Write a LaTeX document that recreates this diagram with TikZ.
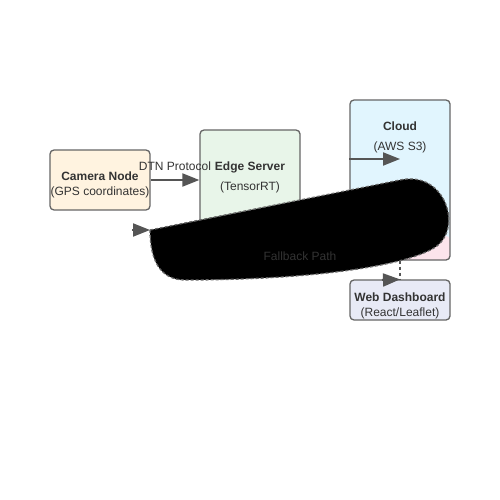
\documentclass[tikz,border=0pt]{standalone}
\usepackage{fontspec}
\setmainfont{Liberation Sans}
\usetikzlibrary{arrows.meta}
\definecolor{linegray}{HTML}{555555}
\definecolor{boxgray}{HTML}{666666}
\definecolor{textgray}{HTML}{333333}
\definecolor{camfill}{HTML}{FFF3E0}
\definecolor{edgefill}{HTML}{E8F5E9}
\definecolor{cloudfill}{HTML}{E1F5FE}
\definecolor{alertfill}{HTML}{FCE4EC}
\definecolor{dashfill}{HTML}{E8EAF6}
\begin{document}
\begin{tikzpicture}[x=1pt,y=-1pt,>={Triangle[length=17pt,width=13pt]},
    box/.style={draw=boxgray,line width=1.3pt,rounded corners=4pt,minimum width=100pt,inner sep=0pt},
    txt/.style={font=\fontsize{12}{15}\selectfont,text=textgray,align=center,inner sep=0pt},
    link/.style={->,draw=linegray,fill=linegray,line width=2pt}]
\useasboundingbox (0,0) rectangle (500,500);

\node[box,fill=camfill,minimum height=60pt](cam) at (100,180){};
\node[box,fill=edgefill,minimum height=120pt](edge) at (250,190){};
\node[box,fill=cloudfill,minimum height=160pt,
    path picture={\fill[alertfill](path picture bounding box.south west) rectangle ([yshift=24pt]path picture bounding box.south east);}](cloud) at (400,180){};
\node[box,fill=dashfill,minimum height=40pt](dash) at (400,300){};

\node[txt](camT) at (100,185){\textbf{Camera Node}\\(GPS coordinates)};
\node[txt](edgeT) at (250,177){\textbf{Edge Server}\\[5pt](TensorRT)};
\node[txt](cloudT) at (400,137){\textbf{Cloud}\\[5pt](AWS S3)};
\node[txt](dashT) at (400,305.5){\textbf{Web Dashboard}\\(React/Leaflet)};

\draw[link](cam.east) -- (cam.east -| edge.west);
\node[txt](dtn) at (175,166){DTN Protocol};
\draw[link](cloud.west |- 0,159) -- (400,159);

\coordinate (fbStart) at (150,230);
\filldraw[fill=black,draw=boxgray,line width=1.3pt,dash pattern=on 3pt off 2pt]
    (fbStart) -- (400,180) .. controls (446,170) and (464,230) .. (434,248)
    .. controls (400,268) and (300,280) .. (185,280) .. controls (160,280) and (150,260) .. (fbStart);
\node[txt](fb) at (300,256){Fallback Path};
\draw[link](132,230) -- (fbStart);

\draw[draw=linegray,line width=1.5pt,dashed](cloud.south) -- (dash.north);
\draw[link](382,280) -- (dash.north);
\end{tikzpicture}
\end{document}
